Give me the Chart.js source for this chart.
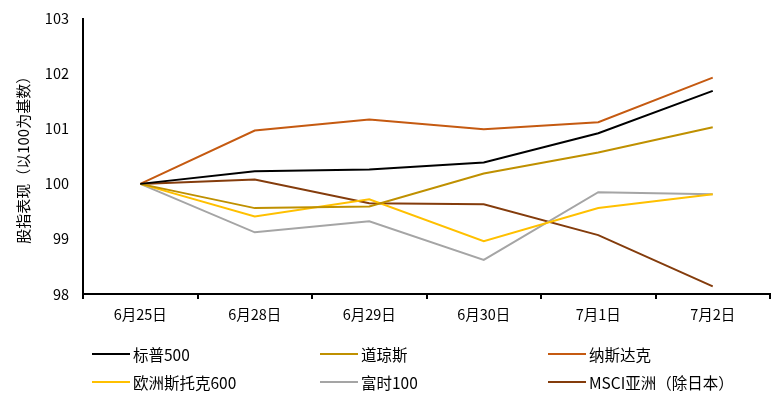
<!DOCTYPE html>
<html><head><meta charset="utf-8">
<script src="https://cdn.jsdelivr.net/npm/chart.js@4/dist/chart.umd.min.js"></script>
<style>
html,body{margin:0;padding:0;background:#fff;width:781px;height:399px;overflow:hidden;font-family:"Noto Sans CJK SC","Noto Sans",sans-serif;}
#wrap{position:absolute;left:0;top:-4px;width:781px;height:348px;}
#legend{position:absolute;left:0;top:0;width:781px;height:399px;pointer-events:none;}
.item{position:absolute;display:flex;align-items:center;font-size:15.5px;color:#000;white-space:nowrap;}
.sw{width:38px;height:2px;margin-right:3px;}
</style></head><body>
<div id="wrap"><canvas id="c" width="781" height="348"></canvas></div>
<div id="legend"></div>
<script>
const categories = ["6月25日","6月28日","6月29日","6月30日","7月1日","7月2日"];
const seriesNames = ["标普500","道琼斯","纳斯达克","欧洲斯托克600","富时100","MSCI亚洲（除日本）"];
const sp500   = [100, 100.23, 100.26, 100.39, 100.92, 101.69];
const dow     = [100, 99.56, 99.59, 100.19, 100.57, 101.03];
const nasdaq  = [100, 100.97, 101.17, 100.99, 101.12, 101.93];
const stoxx   = [100, 99.41, 99.72, 98.96, 99.56, 99.81];
const ftse    = [100, 99.12, 99.32, 98.62, 99.85, 99.81];
const msciAsia= [100, 100.08, 99.65, 99.63, 99.07, 98.14];
const yTicks  = [98, 99, 100, 101, 102, 103];
const yTitle  = "股指表现（以100为基数）";

const colors = ["#000000","#BF9000","#C55A11","#FFC000","#A5A5A5","#843C0C"];
const values = [sp500, dow, nasdaq, stoxx, ftse, msciAsia];
const fam = "'Noto Sans CJK SC','Noto Sans',sans-serif";

new Chart(document.getElementById('c'), {
  type:'line',
  data:{
    labels:categories,
    datasets: seriesNames.map((n,i)=>({label:n,data:values[i],borderColor:colors[i],backgroundColor:colors[i],borderWidth:2,pointRadius:0,tension:0,fill:false}))
  },
  options:{
    responsive:false, animation:false,
    layout:{padding:{left:0,right:11,top:8,bottom:0}},
    plugins:{legend:{display:false},tooltip:{enabled:false}},
    scales:{
      x:{
        offset:true,
        grid:{offset:true,drawOnChartArea:false,drawTicks:true,tickLength:5,color:'#000',lineWidth:2},
        border:{color:'#000',width:2},
        ticks:{color:'#000',font:{family:fam,size:14.5},padding:7,maxRotation:0},
        afterFit:(s)=>{s.height=50;}
      },
      y:{
        min:98,max:103,
        afterBuildTicks:(s)=>{s.ticks=yTicks.map(v=>({value:v}));},
        grid:{drawOnChartArea:false,drawTicks:false},
        border:{color:'#000',width:2},
        ticks:{color:'#000',font:{family:fam,size:14.5},padding:14},
        title:{display:true,text:yTitle,color:'#000',font:{family:fam,size:15},padding:{top:14,bottom:0}},
        afterFit:(s)=>{s.width=83;}
      }
    }
  }
});

const leg = document.getElementById('legend');
const colX = [92, 320, 548];
const rowY = [354, 382];
seriesNames.forEach((n,i)=>{
  const d=document.createElement('div');
  d.className='item';
  d.style.left=colX[i%3]+'px';
  d.style.top=(rowY[Math.floor(i/3)]-11)+'px';
  d.style.height='22px';
  d.innerHTML='<span class="sw" style="background:'+colors[i]+'"></span><span>'+n+'</span>';
  leg.appendChild(d);
});
</script>
</body></html>
